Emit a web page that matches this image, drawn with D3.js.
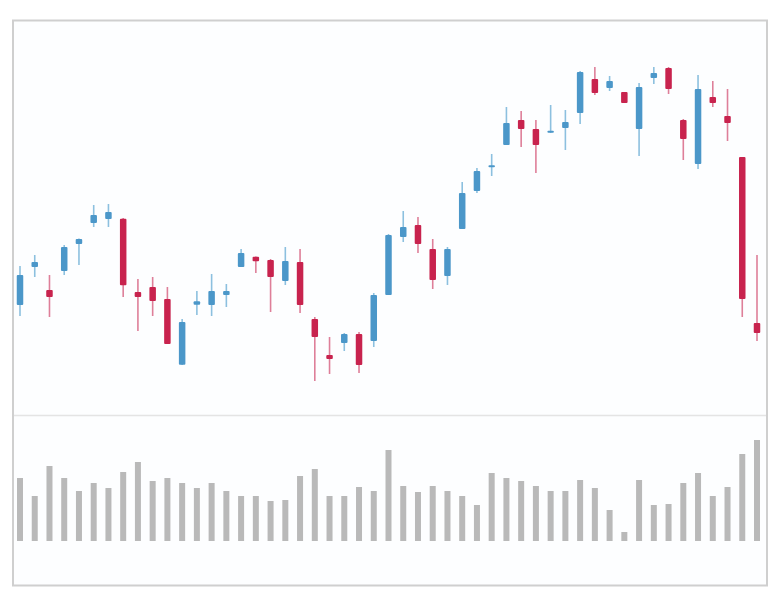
<!DOCTYPE html>
<html>
<head>
<meta charset="utf-8">
<script src="https://cdn.jsdelivr.net/npm/d3@7"></script>
<style>
html,body{margin:0;padding:0;background:#fff;}
svg{display:block;}
</style>
</head>
<body>
<svg id="chart" width="775" height="602"></svg>
<script>
const days = d3.range(1, 52).map(i => "D" + i);
const open  = [95,133,110,129,156,177,181,181.3,108,113,101,35.3,95.3,95,105,133,143.3,140,119,138,81,45,57,66,59,105,163,175,151,124,171,209,232.7,255,280,271,267.3,272,287,321,312,308,271,322,332,280,236,303,284,243,77];
const high  = [134,145,125,155,161.5,195,196,182,121,123,113,81,109,126,116,151,143.5,141,153,151,83,63,67,68,107,166,189,183,161,153,218,232,246,293,289,280,295,290,329,333,324,308,317,333,333,281,325,319,311,243,145];
const low   = [84,123,83,125,135,173,173,103,69,84,56,35,85,84,93,133,127,88,115,87,19,26,49,27,53,105,158,147,111,115,171,207,224,255,253,227,267,250,276,305,309,297,244,316,306,240,231,293,259,83,59];
const close = [125,138,103,153,161,185,188,114.7,103,99,56,78,98.7,109,109,147,138.7,123,139,95,63,41,66,35,105,165,173,156,120,151,207,229,234.7,277,271,255,269.3,278,328,307,319,297,313,327,311,261,311,297,277,101,67];
const volume = [63,45,75,63,50,58,53,69,79,60,63,58,53,58,50,45,45,40,41,65,72,45,45,54,50,91,55,49,55,50,45,36,68,63,60,55,50,50,61,53,31,9,61,36,37,58,68,45,54,87,101];

const data = days.map((d, i) => ({day: d, o: open[i], h: high[i], l: low[i], c: close[i], v: volume[i]}));

const svg = d3.select("#chart");
const UP = "#4b97c9", DOWN = "#c8234e";
const UPW = "#8cc0df", DOWNW = "#de7f99";

// frame
svg.append("rect").attr("x", 13).attr("y", 20.5).attr("width", 754).attr("height", 565)
  .attr("fill", "#fdfeff").attr("stroke", "#cfcfcf").attr("stroke-width", 2);

const x = d3.scalePoint().domain(days).range([20, 757]);
const y = d3.scaleLinear().domain([0, 350]).range([400, 50]);
const yv = d3.scaleLinear().domain([0, 100]).range([541, 441]);

// separator
svg.append("line").attr("x1", 14).attr("x2", 766).attr("y1", 415.5).attr("y2", 415.5)
  .attr("stroke", "#e4e4e4").attr("stroke-width", 1.5);

// wicks
svg.append("g").selectAll("line").data(data).join("line")
  .attr("x1", d => x(d.day)).attr("x2", d => x(d.day))
  .attr("y1", d => y(d.h)).attr("y2", d => y(d.l))
  .attr("stroke", d => d.c >= d.o ? UPW : DOWNW)
  .attr("stroke-width", 1.6);

// bodies
const bw = 6.5;
svg.append("g").selectAll("rect").data(data).join("rect")
  .attr("x", d => x(d.day) - bw / 2)
  .attr("y", d => y(Math.max(d.o, d.c)))
  .attr("width", bw)
  .attr("height", d => Math.max(2, Math.abs(y(d.o) - y(d.c))))
  .attr("rx", 1)
  .attr("fill", d => d.c >= d.o ? UP : DOWN);

// volume
const vw = 6;
svg.append("g").selectAll("rect").data(data).join("rect")
  .attr("x", d => x(d.day) - vw / 2)
  .attr("y", d => yv(d.v))
  .attr("width", vw)
  .attr("height", d => yv(0) - yv(d.v))
  .attr("fill", "#b9b9b9");
</script>
</body>
</html>
